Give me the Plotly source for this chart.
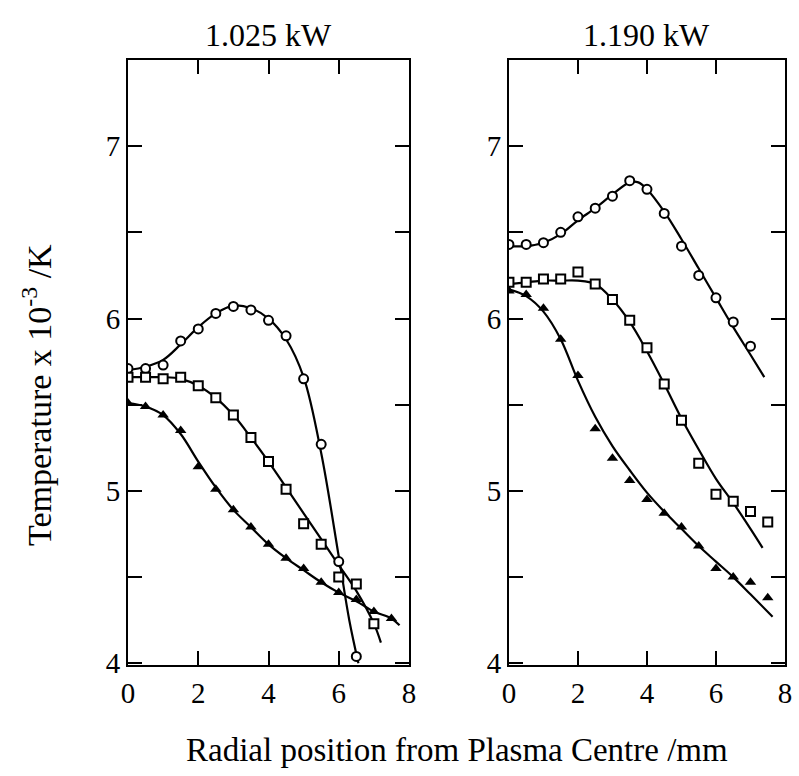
import plotly.graph_objects as go
from plotly.subplots import make_subplots

# ---------------- data ----------------
panel_titles = ["1.025 kW", "1.190 kW"]
x_ticks = [0, 2, 4, 6, 8]
y_ticks = [4, 5, 6, 7]

# Left panel (1.025 kW) measured points
L_circ_x = [0, 0.5, 1, 1.5, 2, 2.5, 3, 3.5, 4, 4.5, 5, 5.5, 6, 6.5]
L_circ_y = [5.71, 5.71, 5.73, 5.87, 5.94, 6.03, 6.07, 6.05, 5.99, 5.90, 5.65, 5.27, 4.59, 4.04]
L_sq_x = [0, 0.5, 1, 1.5, 2, 2.5, 3, 3.5, 4, 4.5, 5, 5.5, 6, 6.5, 7]
L_sq_y = [5.66, 5.66, 5.65, 5.66, 5.61, 5.54, 5.44, 5.31, 5.17, 5.01, 4.81, 4.69, 4.50, 4.46, 4.23]
L_tri_x = [0, 0.5, 1, 1.5, 2, 2.5, 3, 3.5, 4, 4.5, 5, 5.5, 6, 6.5, 7, 7.5]
L_tri_y = [5.51, 5.49, 5.44, 5.35, 5.14, 5.01, 4.89, 4.79, 4.69, 4.61, 4.55, 4.47, 4.41, 4.37, 4.30, 4.26]

# Left panel fitted curves
L_circ_fx = [0, 0.5, 1, 1.5, 2, 2.5, 3, 3.5, 4, 4.5, 5, 5.5, 6, 6.3, 6.56]
L_circ_fy = [5.70, 5.72, 5.76, 5.85, 5.95, 6.03, 6.075, 6.06, 6.0, 5.88, 5.66, 5.22, 4.62, 4.25, 4.0]
L_sq_fx = [0, 0.5, 1, 1.5, 2, 2.5, 3, 3.5, 4, 4.5, 5, 5.5, 6, 6.5, 7, 7.2]
L_sq_fy = [5.66, 5.66, 5.66, 5.65, 5.61, 5.54, 5.44, 5.31, 5.17, 5.02, 4.87, 4.72, 4.57, 4.42, 4.23, 4.12]
L_tri_fx = [0, 0.5, 1, 1.5, 2, 2.5, 3, 3.5, 4, 4.5, 5, 5.5, 6, 6.5, 7, 7.5, 7.73]
L_tri_fy = [5.51, 5.49, 5.44, 5.33, 5.17, 5.02, 4.89, 4.79, 4.69, 4.61, 4.54, 4.47, 4.41, 4.36, 4.30, 4.26, 4.22]

# Right panel (1.190 kW) measured points
R_circ_x = [0, 0.5, 1, 1.5, 2, 2.5, 3, 3.5, 4, 4.5, 5, 5.5, 6, 6.5, 7]
R_circ_y = [6.43, 6.43, 6.44, 6.50, 6.59, 6.64, 6.71, 6.80, 6.75, 6.61, 6.42, 6.25, 6.12, 5.98, 5.84]
R_sq_x = [0, 0.5, 1, 1.5, 2, 2.5, 3, 3.5, 4, 4.5, 5, 5.5, 6, 6.5, 7, 7.5]
R_sq_y = [6.21, 6.21, 6.23, 6.23, 6.27, 6.20, 6.11, 5.99, 5.83, 5.62, 5.41, 5.16, 4.98, 4.94, 4.88, 4.82]
R_tri_x = [0, 0.5, 1, 1.5, 2, 2.5, 3, 3.5, 4, 4.5, 5, 5.5, 6, 6.5, 7, 7.5]
R_tri_y = [6.16, 6.14, 6.06, 5.88, 5.67, 5.36, 5.19, 5.06, 4.95, 4.87, 4.79, 4.68, 4.55, 4.50, 4.47, 4.38]

# Right panel fitted curves
R_circ_fx = [0, 0.5, 1, 1.5, 2, 2.5, 3, 3.5, 3.75, 4, 4.5, 5, 5.5, 6, 6.5, 7, 7.4]
R_circ_fy = [6.42, 6.42, 6.44, 6.49, 6.57, 6.64, 6.72, 6.79, 6.79, 6.75, 6.62, 6.46, 6.29, 6.12, 5.95, 5.79, 5.66]
R_sq_fx = [0, 0.5, 1, 1.5, 2, 2.5, 3, 3.5, 4, 4.5, 5, 5.5, 6, 6.5, 7, 7.35]
R_sq_fy = [6.20, 6.21, 6.22, 6.22, 6.22, 6.20, 6.11, 5.98, 5.81, 5.62, 5.42, 5.24, 5.07, 4.93, 4.78, 4.67]
R_tri_fx = [0, 0.5, 1, 1.5, 2, 2.5, 3, 3.5, 4, 4.5, 5, 5.5, 6, 6.5, 7, 7.64]
R_tri_fy = [6.17, 6.13, 6.04, 5.88, 5.64, 5.43, 5.26, 5.12, 4.99, 4.88, 4.78, 4.68, 4.59, 4.50, 4.40, 4.27]

# ---------------- figure ----------------
FONT = "Liberation Serif, Times New Roman, serif"
W, H = 799, 776
ML, MR, MT, MB = 128, 7, 60, 111
plot_w = W - ML - MR
plot_h = H - MT - MB

fig = make_subplots(rows=1, cols=2, horizontal_spacing=0)
left_dom = [0, (412 - ML) / plot_w]
right_dom = [(513 - ML) / plot_w, 1]


def add_curve(x, y, col):
    fig.add_trace(go.Scatter(x=x, y=y, mode="lines", line=dict(color="black", width=2.2, shape="spline"),
                             hoverinfo="skip", showlegend=False), row=1, col=col)


def add_pts(x, y, col, symbol, filled):
    fig.add_trace(go.Scatter(
        x=x, y=y, mode="markers", showlegend=False,
        marker=dict(symbol=symbol, size=9 if symbol != "triangle-up" else 10,
                    color="black" if filled else "white",
                    line=dict(color="black", width=2 if not filled else 0))), row=1, col=col)


add_curve(L_circ_fx, L_circ_fy, 1)
add_curve(L_sq_fx, L_sq_fy, 1)
add_curve(L_tri_fx, L_tri_fy, 1)
add_pts(L_circ_x, L_circ_y, 1, "circle", False)
add_pts(L_sq_x, L_sq_y, 1, "square", False)
add_pts(L_tri_x, L_tri_y, 1, "triangle-up", True)

add_curve(R_circ_fx, R_circ_fy, 2)
add_curve(R_sq_fx, R_sq_fy, 2)
add_curve(R_tri_fx, R_tri_fy, 2)
add_pts(R_circ_x, R_circ_y, 2, "circle", False)
add_pts(R_sq_x, R_sq_y, 2, "square", False)
add_pts(R_tri_x, R_tri_y, 2, "triangle-up", True)

axis_common = dict(showline=True, linecolor="black", linewidth=2, mirror="ticks",
                   ticks="inside", tickcolor="black", tickwidth=2, ticklen=14,
                   showgrid=False, zeroline=False,
                   tickfont=dict(family=FONT, size=29, color="black"))

for i, dom in enumerate([left_dom, right_dom], start=1):
    fig.update_xaxes(range=[0, 8], tickvals=x_ticks, ticktext=[str(v) for v in x_ticks],
                     domain=dom, ticklabelstandoff=1, **axis_common, row=1, col=i)
    fig.update_yaxes(range=[3.99, 7.5], tickvals=y_ticks, ticktext=[str(v) for v in y_ticks],
                     minor=dict(ticks="inside", tick0=4, dtick=0.5, ticklen=14,
                                tickwidth=2, tickcolor="black"),
                     **axis_common, row=1, col=i)

annotations = []
centers = [(sum(left_dom) / 2), (sum(right_dom) / 2)]
for t, cx in zip(panel_titles, centers):
    annotations.append(dict(text=t, x=cx, y=(MT + plot_h - 35) / plot_h, xref="paper", yref="paper",
                            showarrow=False, xanchor="center", yanchor="middle",
                            font=dict(family=FONT, size=32, color="black")))
annotations.append(dict(text="Radial position from Plasma Centre /mm",
                        x=(461 - ML) / plot_w, y=(MT + plot_h - 750) / plot_h,
                        xref="paper", yref="paper", showarrow=False,
                        xanchor="center", yanchor="middle",
                        font=dict(family=FONT, size=33, color="black")))
annotations.append(dict(text="Temperature x 10<sup>-3</sup> /K",
                        x=(36 - ML) / plot_w, y=(MT + plot_h - 395) / plot_h,
                        xref="paper", yref="paper", showarrow=False, textangle=-90,
                        xanchor="center", yanchor="middle",
                        font=dict(family=FONT, size=34, color="black")))

fig.update_layout(width=W, height=H, margin=dict(l=ML, r=MR, t=MT, b=MB),
                  paper_bgcolor="white", plot_bgcolor="white",
                  annotations=annotations, showlegend=False)

fig.write_html("out.html")
